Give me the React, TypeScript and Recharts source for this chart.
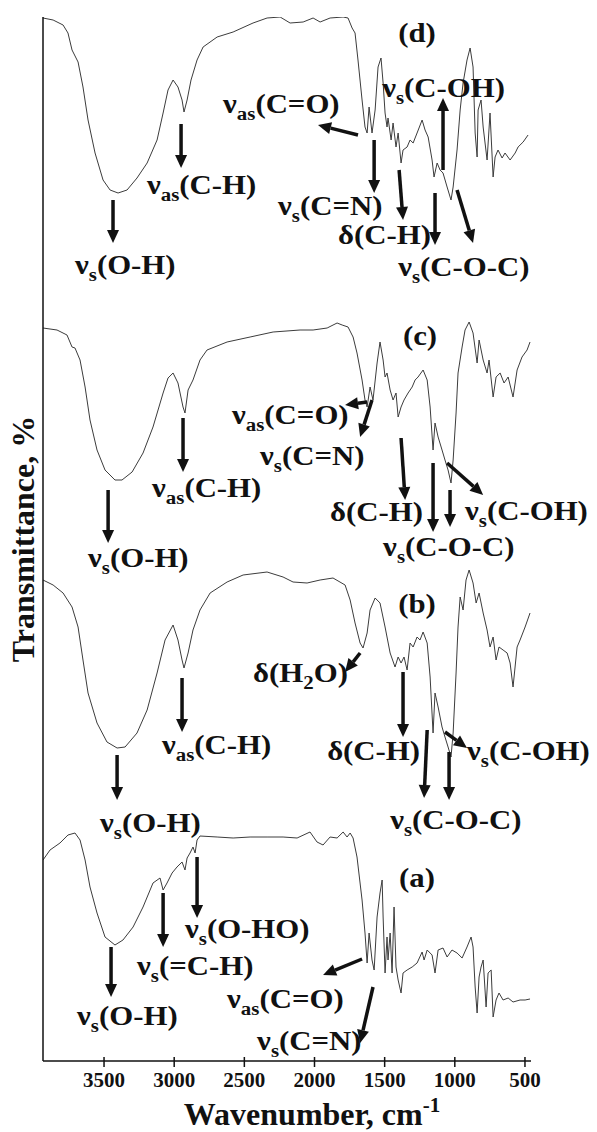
import { LineChart, Line, XAxis, YAxis, ReferenceLine, ReferenceDot } from "recharts";

const FONT = "'Liberation Serif', 'Times New Roman', serif";
const INK = "#111";

// wavenumbers (cm-1) and stacked transmittance (a.u.)
const wnA = [3935, 3885, 3814, 3757, 3707, 3671, 3635, 3600, 3550, 3493, 3422, 3365, 3293, 3222, 3151, 3101, 3079, 3051, 3015, 2980, 2944, 2923, 2908, 2887, 2866, 2851, 2837, 2816, 2694, 2580, 2459, 2338, 2224, 2124, 2032, 1982, 1939, 1889, 1839, 1796, 1768, 1746, 1725, 1697, 1661, 1640, 1625, 1611, 1590, 1575, 1554, 1533, 1518, 1511, 1497, 1483, 1476, 1461, 1447, 1433, 1419, 1404, 1383, 1369, 1340, 1304, 1269, 1233, 1219, 1197, 1162, 1141, 1119, 1084, 1055, 1020, 984, 948, 913, 884, 870, 855, 841, 827, 813, 798, 777, 763, 741, 727, 706, 685, 656, 620, 585, 535, 499, 464];
const tA = [20.1, 21.1, 21.8, 22.6, 22.8, 22.1, 20.1, 17.4, 14.8, 12.4, 11.6, 12.1, 13.4, 15.4, 17.8, 18.3, 17.1, 17.8, 18.8, 19.4, 19.9, 19.1, 20.3, 20.8, 21.4, 20.8, 22.1, 22.5, 22.4, 22.3, 22.4, 22.4, 22.4, 22.3, 22.9, 21.9, 21.6, 22.4, 22.3, 22.9, 22.4, 22.8, 22.3, 20.4, 16.1, 12.8, 9.8, 12.8, 10.1, 9.1, 14.4, 16.8, 18.1, 14.4, 8.8, 12.4, 10.1, 12.8, 8.8, 15.4, 9.4, 8.1, 6.8, 8.8, 9.1, 9.4, 9.8, 10.9, 10.1, 11.1, 10.6, 8.8, 11.1, 11.3, 10.4, 11.1, 10.8, 10.3, 11.4, 12.4, 11.4, 7.4, 4.8, 8.4, 9.4, 10.1, 5.4, 8.8, 9.1, 4.4, 6.1, 6.8, 6.1, 6.3, 5.9, 6.1, 6.1, 6.2];

const wnB = [3935, 3863, 3792, 3728, 3685, 3650, 3614, 3550, 3479, 3407, 3350, 3265, 3193, 3122, 3065, 3008, 2973, 2944, 2930, 2901, 2866, 2816, 2744, 2623, 2509, 2338, 2224, 2153, 2053, 1960, 1868, 1782, 1746, 1711, 1675, 1654, 1625, 1604, 1568, 1533, 1497, 1461, 1426, 1404, 1383, 1362, 1340, 1319, 1297, 1269, 1248, 1226, 1197, 1176, 1155, 1141, 1119, 1091, 1070, 1048, 1027, 1012, 991, 977, 962, 941, 920, 898, 870, 848, 827, 798, 770, 749, 727, 706, 685, 656, 627, 606, 585, 556, 535, 499, 464];
const tB = [48.1, 47.6, 46.8, 45.4, 43.4, 40.1, 36.8, 33.8, 31.9, 31.3, 31.4, 32.8, 35.1, 38.8, 42.1, 43.6, 42.1, 40.1, 39.3, 40.8, 43.1, 45.1, 46.8, 47.9, 48.6, 48.9, 48.4, 47.9, 47.8, 48.1, 48.3, 47.6, 46.1, 43.8, 41.8, 41.3, 42.8, 45.1, 46.3, 45.8, 43.4, 40.8, 39.4, 40.4, 39.8, 40.4, 39.1, 41.8, 41.4, 42.4, 42.1, 42.9, 41.8, 38.4, 32.8, 36.8, 35.4, 33.4, 32.4, 31.4, 30.4, 32.8, 38.8, 43.4, 46.4, 45.1, 48.1, 49.1, 47.8, 45.8, 46.8, 44.8, 43.1, 41.4, 42.4, 40.1, 41.4, 41.1, 40.8, 39.8, 37.4, 41.4, 42.1, 43.4, 44.8];

const wnC = [3935, 3835, 3764, 3728, 3707, 3671, 3635, 3600, 3550, 3493, 3422, 3372, 3300, 3222, 3151, 3079, 3044, 3008, 2973, 2937, 2923, 2901, 2866, 2816, 2766, 2623, 2459, 2295, 2103, 2010, 1910, 1839, 1803, 1761, 1725, 1697, 1661, 1640, 1625, 1604, 1583, 1554, 1533, 1511, 1497, 1483, 1461, 1440, 1419, 1404, 1383, 1362, 1333, 1304, 1283, 1262, 1226, 1197, 1176, 1155, 1141, 1119, 1091, 1070, 1048, 1027, 1012, 991, 977, 948, 927, 898, 870, 841, 827, 798, 770, 756, 727, 706, 677, 649, 620, 585, 556, 521, 485, 464];
const tC = [73.3, 73.1, 72.6, 71.4, 71.3, 70.1, 67.4, 64.1, 61.1, 59.1, 58.1, 58.1, 58.9, 60.8, 63.4, 66.8, 68.3, 68.8, 67.8, 65.4, 64.8, 67.1, 68.1, 70.1, 71.1, 71.9, 72.4, 72.9, 73.1, 73.1, 73.3, 73.8, 73.6, 73.4, 72.4, 70.8, 68.1, 66.1, 65.4, 67.4, 66.1, 69.8, 71.9, 70.1, 68.4, 68.8, 67.1, 66.1, 66.8, 64.4, 65.4, 66.1, 66.8, 67.4, 68.1, 68.4, 69.1, 68.1, 65.4, 61.1, 63.8, 62.4, 61.1, 60.1, 59.1, 57.8, 60.1, 64.8, 68.8, 71.4, 73.1, 73.9, 72.8, 69.8, 72.1, 70.1, 68.8, 70.1, 66.4, 68.4, 68.8, 67.8, 68.4, 66.4, 69.1, 70.4, 71.1, 71.9];

const wnD = [3935, 3863, 3792, 3757, 3728, 3685, 3650, 3614, 3564, 3507, 3457, 3400, 3336, 3265, 3193, 3122, 3079, 3044, 3008, 2973, 2944, 2930, 2908, 2880, 2837, 2794, 2694, 2580, 2438, 2338, 2245, 2174, 2081, 2010, 1960, 1889, 1796, 1761, 1732, 1711, 1690, 1661, 1640, 1625, 1611, 1590, 1568, 1547, 1526, 1511, 1497, 1483, 1476, 1454, 1440, 1419, 1404, 1383, 1369, 1340, 1319, 1297, 1269, 1233, 1212, 1190, 1162, 1148, 1126, 1105, 1084, 1055, 1027, 1012, 984, 962, 941, 913, 891, 870, 855, 841, 834, 813, 798, 770, 749, 727, 713, 692, 663, 642, 606, 570, 549, 513, 478];
const tD = [104.3, 104.1, 103.6, 102.8, 101.1, 99.9, 97.4, 94.1, 90.8, 88.1, 87.1, 86.8, 87.1, 88.3, 89.8, 92.1, 94.8, 97.1, 98.1, 97.4, 96.1, 94.9, 96.1, 98.1, 100.1, 101.4, 102.4, 102.9, 103.8, 104.3, 104.4, 103.8, 103.9, 104.3, 103.9, 104.3, 104.4, 104.3, 103.3, 102.8, 100.1, 96.1, 93.4, 92.8, 95.4, 92.8, 95.1, 99.4, 100.3, 97.8, 94.8, 93.4, 94.3, 92.1, 93.8, 91.4, 92.8, 89.8, 91.1, 91.4, 92.1, 91.8, 92.8, 94.1, 93.1, 92.4, 90.1, 88.4, 89.8, 89.1, 88.8, 87.4, 86.1, 87.4, 91.1, 95.1, 97.8, 100.1, 101.3, 99.4, 92.8, 90.4, 95.1, 96.1, 93.4, 90.1, 94.8, 88.4, 90.4, 91.1, 90.3, 90.8, 90.1, 90.8, 91.4, 91.9, 92.6];

const xTicks = [3500, 3000, 2500, 2000, 1500, 1000, 500];

// band labels: [wavenumber, transmittance, text] — "_{..}" marks a subscript
const bandLabels: [number, number, string][] = [
  [3707, 78.7, "ν_{s}(O-H)"],
  [3194, 86.7, "ν_{as}(C-H)"],
  [2652, 94.8, "ν_{as}(C=O)"],
  [2260, 84.6, "ν_{s}(C=N)"],
  [1832, 81.7, "δ(C-H)"],
  [1518, 96.4, "ν_{s}(C-OH)"],
  [1404, 78.5, "ν_{s}(C-O-C)"],

  [3614, 49.4, "ν_{s}(O-H)"],
  [3158, 56.4, "ν_{as}(C-H)"],
  [2588, 63.7, "ν_{as}(C=O)"],
  [2388, 59.6, "ν_{s}(C=N)"],
  [1889, 54.0, "δ(C-H)"],
  [1511, 50.5, "ν_{s}(C-O-C)"],
  [927, 54.1, "ν_{s}(C-OH)"],

  [3528, 22.9, "ν_{s}(O-H)"],
  [3087, 30.7, "ν_{as}(C-H)"],
  [2438, 37.9, "δ(H_{2}O)"],
  [1910, 30.1, "δ(C-H)"],
  [1461, 23.2, "ν_{s}(C-O-C)"],
  [913, 30.1, "ν_{s}(C-OH)"],

  [3692, 3.6, "ν_{s}(O-H)"],
  [3265, 8.6, "ν_{s}(=C-H)"],
  [2923, 12.3, "ν_{s}(O-HO)"],
  [2623, 5.3, "ν_{as}(C=O)"],
  [2409, 1.1, "ν_{s}(C=N)"],
];

const panelLabels: [number, number, string][] = [
  [1269, 101.9, "(d)"],
  [1248, 71.6, "(c)"],
  [1269, 44.8, "(b)"],
  [1269, 17.4, "(a)"],
];

// arrows: [wn from, t from, wn to, t to]
const arrows: [number, number, number, number][] = [
  [3436, 86.1, 3436, 81.8],
  [2951, 93.7, 2951, 89.3],
  [1690, 92.6, 1975, 93.6],
  [1575, 92.1, 1575, 86.8],
  [1397, 89.1, 1369, 84.1],
  [1084, 89.1, 1084, 96.3],
  [1141, 86.8, 1141, 81.6],
  [984, 87.1, 870, 81.8],

  [3471, 57.1, 3471, 51.8],
  [2937, 64.3, 2937, 58.9],
  [1625, 65.9, 1782, 65.6],
  [1590, 66.1, 1675, 62.4],
  [1383, 62.3, 1354, 56.1],
  [1155, 59.8, 1155, 52.9],
  [1034, 57.1, 1034, 53.4],
  [1055, 59.8, 798, 56.6],

  [3407, 30.6, 3407, 26.1],
  [2944, 38.3, 2944, 32.9],
  [1675, 40.8, 1782, 38.9],
  [1369, 38.9, 1369, 32.4],
  [1197, 33.1, 1219, 26.3],
  [1041, 30.9, 1041, 26.1],
  [1070, 32.9, 913, 31.3],

  [3450, 11.4, 3450, 6.4],
  [3079, 16.8, 3079, 11.4],
  [2837, 20.4, 2837, 14.3],
  [1661, 10.2, 1939, 8.6],
  [1583, 7.4, 1675, 1.8],
];

const zip = (wn: number[], t: number[]) =>
  wn.slice(0, Math.min(wn.length, t.length)).map((w, i) => ({ wn: w, t: t[i] }));

const spectra = [zip(wnA, tA), zip(wnB, tB), zip(wnC, tC), zip(wnD, tD)];

// label text; the source lettering is a bit wider than Times, so stretch x a little
function RichText({ x, y, text, anchor = "start" }: any) {
  const parts = text.split(/_\{(.*?)\}/);
  let shift = 0;
  const spans = parts.map((p: string, i: number) => {
    if (!p) return null;
    const sub = i % 2 === 1;
    const target = sub ? 7 : 0;
    const dy = target - shift;
    shift = target;
    return (
      <tspan key={i} dy={dy} fontSize={sub ? 19 : 28}>
        {p}
      </tspan>
    );
  });
  return (
    <text
      transform={`translate(${x}, ${y}) scale(1.1, 1)`}
      x={0}
      y={0}
      textAnchor={anchor}
      fontFamily={FONT}
      fontWeight="bold"
      fill={INK}
    >
      {spans}
    </text>
  );
}

const arrowShape = (props: any) => {
  const { x1, y1, x2, y2 } = props;
  const dx = x2 - x1;
  const dy = y2 - y1;
  const len = Math.hypot(dx, dy) || 1;
  const ux = dx / len;
  const uy = dy / len;
  const head = 13;
  const half = 6;
  const bx = x2 - ux * head;
  const by = y2 - uy * head;
  return (
    <g>
      <line x1={x1} y1={y1} x2={bx} y2={by} stroke={INK} strokeWidth={3.5} />
      <polygon
        points={`${x2},${y2} ${bx - uy * half},${by + ux * half} ${bx + uy * half},${by - ux * half}`}
        fill={INK}
      />
    </g>
  );
};

const XTick = ({ x, y, payload }: any) => (
  <g>
    <line x1={x} x2={x} y1={y - 4} y2={y + 6} stroke={INK} strokeWidth={1.5} />
    <text x={x} y={y + 26} textAnchor="middle" fontFamily={FONT} fontWeight="bold" fontSize={21} fill={INK}>
      {payload.value}
    </text>
  </g>
);

const xTitle = ({ viewBox }: any) => (
  <text
    x={viewBox.x + viewBox.width / 2 + 25}
    y={viewBox.y + 64}
    textAnchor="middle"
    fontFamily={FONT}
    fontWeight="bold"
    fontSize={32}
    fill={INK}
  >
    Wavenumber, cm
    <tspan dy={-13} fontSize={21}>
      -1
    </tspan>
  </text>
);

const yTitle = ({ viewBox }: any) => (
  <text
    transform={`translate(${viewBox.x + 34}, ${viewBox.y + viewBox.height / 2}) rotate(-90)`}
    textAnchor="middle"
    fontFamily={FONT}
    fontWeight="bold"
    fontSize={32}
    fill={INK}
  >
    Transmittance, %
  </text>
);

export default function App() {
  return (
    <div style={{ position: "absolute", left: 0, top: 0, background: "#fff" }}>
      <LineChart width={597} height={1132} margin={{ top: 17, right: 66, bottom: 0, left: 0 }}>
        <XAxis
          dataKey="wn"
          type="number"
          domain={[457, 3935]}
          reversed
          allowDataOverflow
          ticks={xTicks}
          tick={<XTick />}
          tickLine={false}
          tickSize={0}
          tickMargin={0}
          height={71}
          axisLine={{ stroke: INK, strokeWidth: 1.5 }}
          label={xTitle}
        />
        <YAxis
          type="number"
          domain={[0, 104.4]}
          allowDataOverflow
          tick={false}
          tickLine={false}
          width={43}
          axisLine={{ stroke: INK, strokeWidth: 1.5 }}
          label={yTitle}
        />
        {spectra.map((d, i) => (
          <Line
            key={i}
            data={d}
            dataKey="t"
            type="linear"
            stroke="#3c3c3c"
            strokeWidth={1}
            dot={false}
            activeDot={false}
            isAnimationActive={false}
          />
        ))}
        {arrows.map(([w1, t1, w2, t2], i) => (
          <ReferenceLine
            key={`a${i}`}
            segment={[
              { x: w1, y: t1 },
              { x: w2, y: t2 },
            ]}
            ifOverflow="visible"
            shape={arrowShape}
          />
        ))}
        {bandLabels.map(([w, t, text], i) => (
          <ReferenceDot
            key={`l${i}`}
            x={w}
            y={t}
            r={0}
            ifOverflow="visible"
            shape={(p: any) => <RichText x={p.cx} y={p.cy} text={text} />}
          />
        ))}
        {panelLabels.map(([w, t, text], i) => (
          <ReferenceDot
            key={`p${i}`}
            x={w}
            y={t}
            r={0}
            ifOverflow="visible"
            shape={(p: any) => <RichText x={p.cx} y={p.cy} text={text} anchor="middle" />}
          />
        ))}
      </LineChart>
    </div>
  );
}
